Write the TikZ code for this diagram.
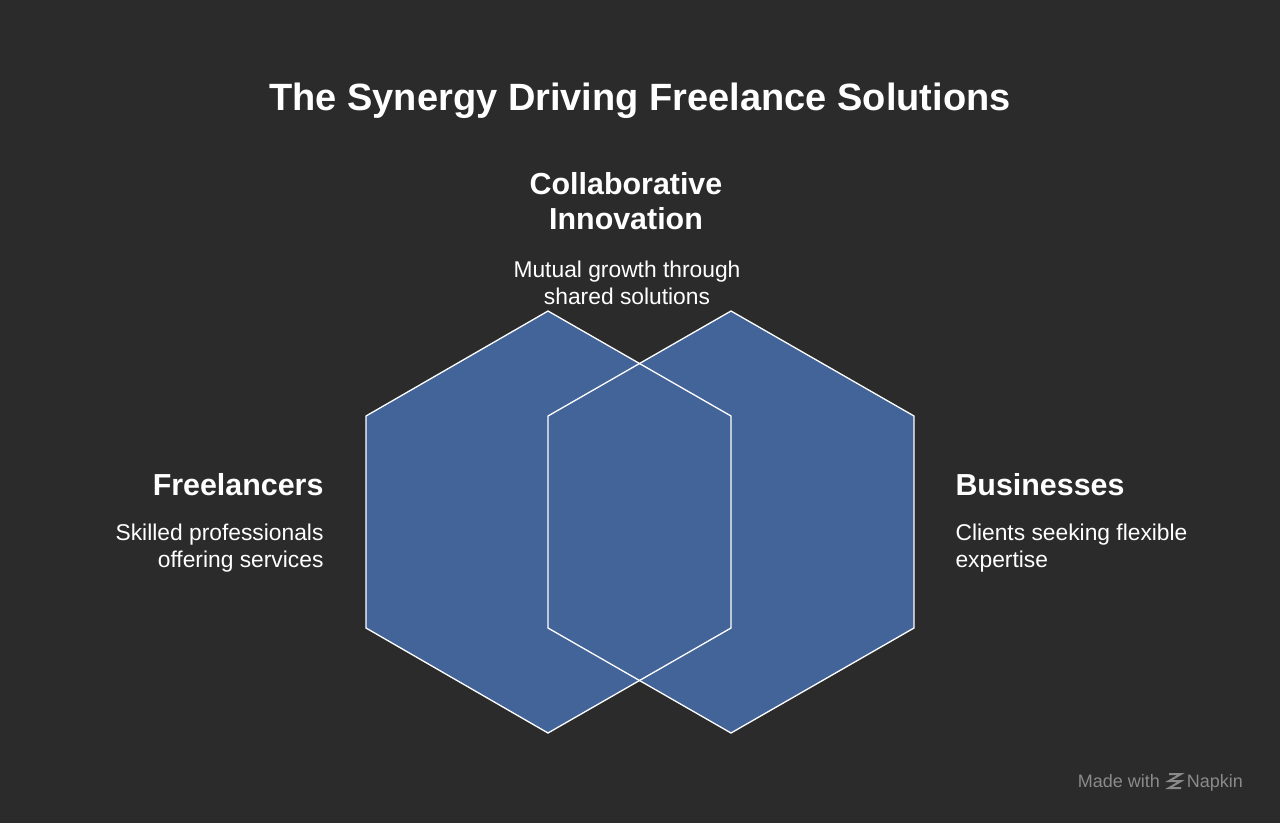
\documentclass[tikz,border=0pt]{standalone}
\usepackage{fontspec}
\setmainfont{Liberation Sans}
\definecolor{NapkinBack}{HTML}{2B2B2B}
\definecolor{HexBlue}{HTML}{436499}
\definecolor{NoteGrey}{HTML}{8A8A8A}
\tikzset{
	head/.style={text=white, font=\fontsize{30.4}{35}\selectfont\bfseries, align=center},
	body/.style={text=white, font=\fontsize{22.8}{27}\selectfont, align=center},
	foot/.style={text=NoteGrey, font=\fontsize{18}{20}\selectfont, inner sep=0pt},
	hex/.style={draw=white, line width=1.3pt, line join=miter}
}
\begin{document}
\begin{tikzpicture}[x=1pt,y=-1pt]
	\fill[NapkinBack] (0,0) rectangle (1280,823);
	\useasboundingbox (0,0) rectangle (1280,823);
	
	% hexagons
	\fill[HexBlue] (548,311) -- (731,416) -- (731,628) -- (548,733) -- (366,628) -- (366,416) -- cycle;
	\fill[HexBlue] (731,311) -- (914,416) -- (914,628) -- (731,733) -- (548,628) -- (548,416) -- cycle;
	\draw[hex] (548,311) -- (731,416) -- (731,628) -- (548,733) -- (366,628) -- (366,416) -- cycle;
	\draw[hex] (731,311) -- (914,416) -- (914,628) -- (731,733) -- (548,628) -- (548,416) -- cycle;
	
	\node[text=white, font=\fontsize{38}{44}\selectfont\bfseries] (title) at (640,101) {The Synergy Driving Freelance Solutions};
	
	\node[head] (collab) at (626,201) {Collaborative\\Innovation};
	\node[body] (collabtxt) at (627,283) {Mutual growth through\\shared solutions};
	
	\node[head, anchor=east] (free) at (327,485) {Freelancers};
	\node[body, anchor=east, align=right] (freetxt) at (327,548) {Skilled professionals\\offering services};
	
	\node[head, anchor=west] (biz) at (952,485) {Businesses};
	\node[body, anchor=west, align=left] (biztxt) at (952,548) {Clients seeking flexible\\expertise};
	
	% footer with small logo mark
	\node[foot, anchor=base east] (napkin) at (1243,787) {Napkin};
	\node[foot, anchor=base east] (made) at (1160,787) {Made with};
	\draw[NoteGrey, line width=2pt] (1169,774) -- (1181,774) -- (1169,781) -- (1181,781) -- (1169,788) -- (1181,788);
\end{tikzpicture}
\end{document}
